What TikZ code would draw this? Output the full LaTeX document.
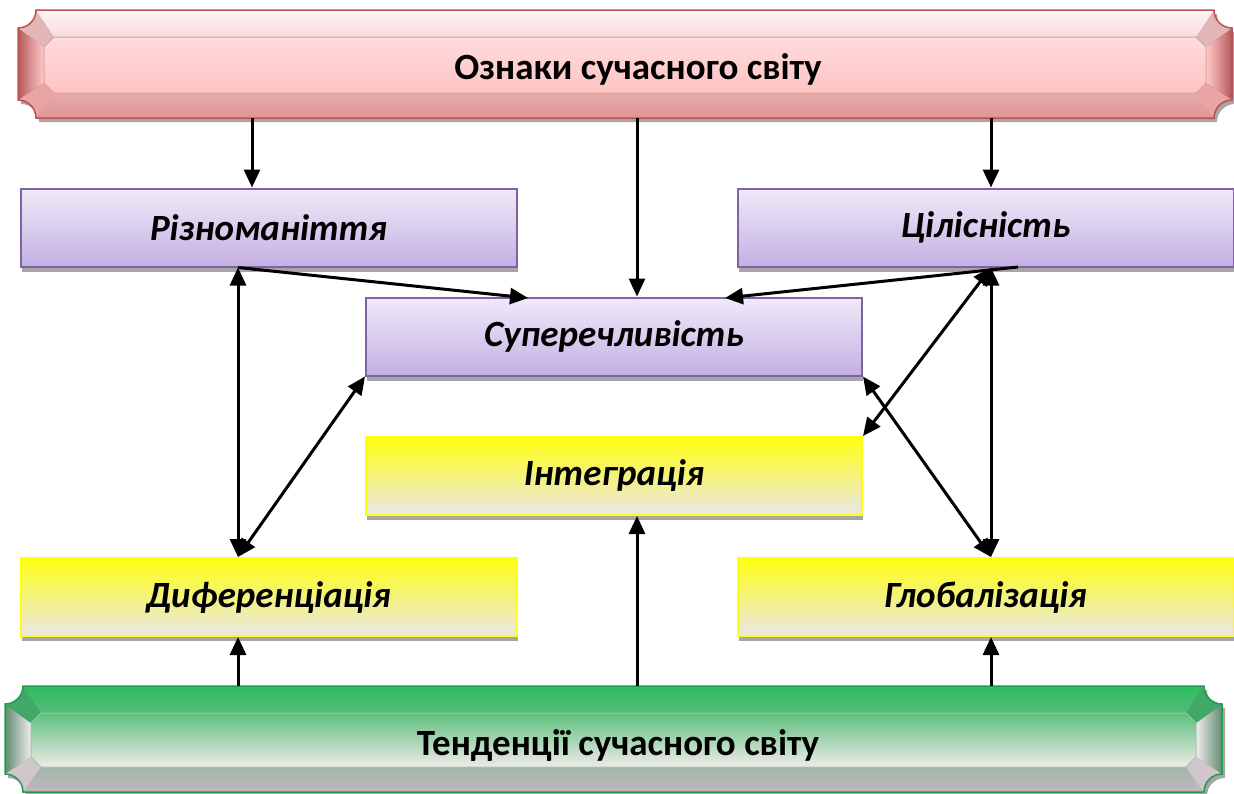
\documentclass[tikz,border=0pt]{standalone}
\usepackage{fontspec}
\setmainfont{Carlito}
\usetikzlibrary{arrows.meta,shadows}

\definecolor{redEdge}{HTML}{C0504D}
\definecolor{redTop}{HTML}{FFF4F4}
\definecolor{redMid}{HTML}{FFCACA}
\definecolor{redBot}{HTML}{E09494}
\definecolor{redSide}{HTML}{B65858}
\definecolor{redIn1}{HTML}{FFDCDC}
\definecolor{redIn2}{HTML}{FFC3C3}
\definecolor{redLine}{HTML}{D9A2A2}

\definecolor{grnEdge}{HTML}{1E9E4A}
\definecolor{grnTop}{HTML}{2DBD60}
\definecolor{grnMid}{HTML}{F1ECEC}
\definecolor{grnBot}{HTML}{C4B6C0}
\definecolor{grnSide}{HTML}{5E8C70}
\definecolor{grnIn1}{HTML}{5DBF7C}
\definecolor{grnIn2}{HTML}{F0EBE9}
\definecolor{grnLine}{HTML}{9CC6A6}

\definecolor{signEdge}{HTML}{8064A2}
\definecolor{signTop}{HTML}{EFEAF8}
\definecolor{signBot}{HTML}{C3B0E3}
\definecolor{trendTop}{HTML}{FFFF10}
\definecolor{trendMid}{HTML}{F4F1C6}
\definecolor{trendBot}{HTML}{EAE6EA}

% outline of a banner with hollow corners
\newcommand\bannerpath[4]{(#1+18,#2) -- (#3-18,#2) arc[start angle=180,end angle=90,radius=18]
  -- (#3,#4-18) arc[start angle=270,end angle=180,radius=18]
  -- (#1+18,#4) arc[start angle=0,end angle=-90,radius=18]
  -- (#1,#2+18) arc[start angle=90,end angle=0,radius=18] -- cycle}

\newcommand\banner[5]{%
  \fill[top color=#5Top, middle color=#5Mid, bottom color=#5Bot,
    drop shadow={shadow xshift=3pt, shadow yshift=-4pt, fill=black!35, opacity=1}]
    \bannerpath{#1}{#2}{#3}{#4};
  \fill[left color=#5Side, right color=#5Mid] (#1,#2+18) -- (#1+26,#2+37) -- (#1+26,#4-35) -- (#1,#4-18) -- cycle;
  \fill[right color=#5Side, left color=#5Mid] (#3,#2+18) -- (#3-26,#2+37) -- (#3-26,#4-35) -- (#3,#4-18) -- cycle;
  \fill[#5Top!60!#5Side] (#1,#2+18) arc[start angle=90,end angle=0,radius=18] -- (#1+36,#2+27) -- (#1+26,#2+37) -- cycle;
  \fill[#5Top!60!#5Side] (#3-18,#2) arc[start angle=180,end angle=90,radius=18] -- (#3-26,#2+37) -- (#3-36,#2+27) -- cycle;
  \fill[#5Bot!70!#5Mid] (#1+18,#4) arc[start angle=0,end angle=-90,radius=18] -- (#1+26,#4-35) -- (#1+36,#4-25) -- cycle;
  \fill[#5Bot!70!#5Mid] (#3,#4-18) arc[start angle=270,end angle=180,radius=18] -- (#3-36,#4-25) -- (#3-26,#4-35) -- cycle;
  \draw[#5Line, line width=1pt, top color=#5In1, bottom color=#5In2]
    (#1+36,#2+27) -- (#3-36,#2+27) -- (#3-26,#2+37) -- (#3-26,#4-35) -- (#3-36,#4-25)
    -- (#1+36,#4-25) -- (#1+26,#4-35) -- (#1+26,#2+37) -- cycle;
  \draw[#5Edge, line width=1.5pt] \bannerpath{#1}{#2}{#3}{#4};
}

\begin{document}
\begin{tikzpicture}[x=1pt, y=-1pt,
    sign/.style={draw=signEdge, line width=2pt, top color=signTop, bottom color=signBot,
      minimum width=496pt, minimum height=78pt, font=\fontsize{37}{40}\selectfont\bfseries\itshape,
      drop shadow={shadow xshift=1pt, shadow yshift=-5pt, fill=black!35, opacity=1}},
    trend/.style={draw=trendTop, line width=2pt, top color=trendTop, middle color=trendMid, bottom color=trendBot,
      minimum width=496pt, minimum height=78pt, font=\fontsize{37}{40}\selectfont\bfseries\itshape,
      drop shadow={shadow xshift=1pt, shadow yshift=-5pt, fill=black!35, opacity=1}},
    oneway/.style={line width=3pt, -{Triangle[length=18pt,width=16pt]}},
    twoway/.style={line width=3pt, {Triangle[length=18pt,width=16pt]}-{Triangle[length=18pt,width=16pt]}}]
  \useasboundingbox (0,0) rectangle (1234,793);

  % banners
  \banner{18}{10}{1232}{118}{red}
  \banner{5}{686}{1222}{792}{grn}
  \node[minimum width=1214pt, minimum height=96pt, font=\fontsize{37}{40}\selectfont\bfseries]
    (oznaky) at (625,69) {\hspace*{26pt}Ознаки сучасного світу};
  \node[minimum width=1217pt, minimum height=96pt, font=\fontsize{37}{40}\selectfont\bfseries]
    (tendencii) at (613.5,745) {\hspace*{9pt}Тенденції сучасного світу};

  % boxes
  \node[sign] (riz) at (268.5,227.5) {Різноманіття};
  \node[sign] (cil) at (985.5,227.5) {Цілісність};
  \node[sign] (sup) at (614,336.5) {Суперечливість};
  \node[trend] (integ) at (614,476) {Інтеграція};
  \node[trend] (dyf) at (268.5,597) {Диференціація};
  \node[trend] (glob) at (985.5,597) {Глобалізація};

  \coordinate (t1) at (252,118);
  \coordinate (t2) at (637,118);
  \coordinate (t3) at (991,118);
  \coordinate (b1) at (238,686);
  \coordinate (b2) at (637,686);
  \coordinate (b3) at (991,686);
  \coordinate (s1) at (528,298);
  \coordinate (s2) at (725,298);
  \coordinate (c1) at (1018,267);

  \draw[oneway] (t1) -- (t1 |- riz.north);
  \draw[oneway] (t2) -- (t2 |- sup.north);
  \draw[oneway] (t3) -- (t3 |- cil.north);
  \draw[oneway] (b1) -- (b1 |- dyf.south);
  \draw[oneway] (b2) -- (b2 |- integ.south);
  \draw[oneway] (b3) -- (b3 |- glob.south);
  \draw[oneway] (b1 |- riz.south) -- (s1);
  \draw[oneway] (c1) -- (s2);
  \draw[twoway] (b1 |- riz.south) -- (b1 |- dyf.north);
  \draw[twoway] (sup.south west) -- (b1 |- dyf.north);
  \draw[twoway] (b3 |- cil.south) -- (b3 |- glob.north);
  \draw[twoway] (b3 |- cil.south) -- (integ.north east);
  \draw[twoway] (sup.south east) -- (b3 |- glob.north);
\end{tikzpicture}
\end{document}
